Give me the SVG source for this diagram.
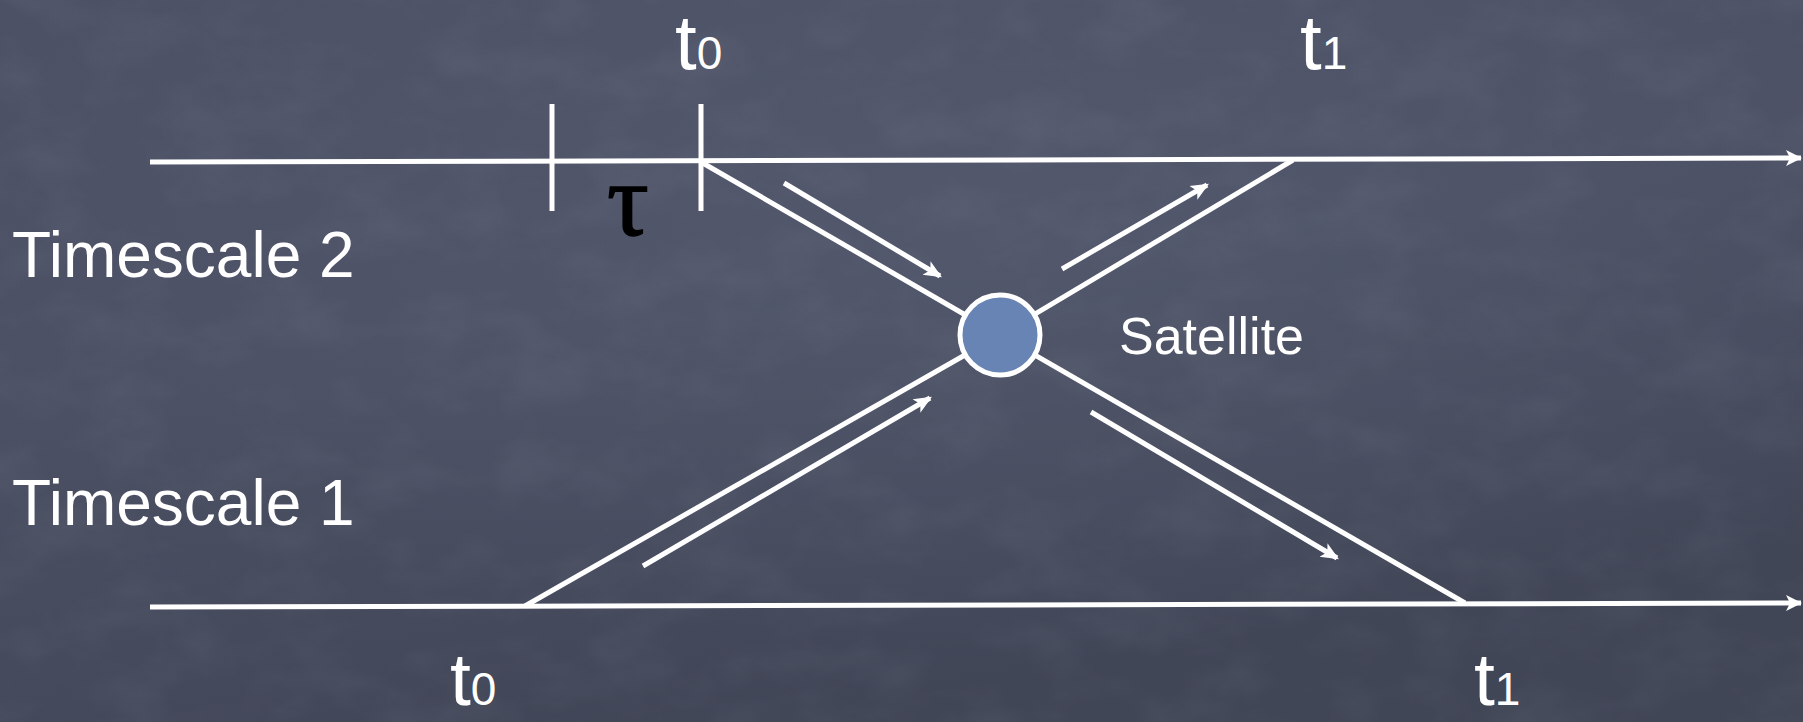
<svg xmlns="http://www.w3.org/2000/svg" width="1803" height="722" viewBox="0 0 1803 722">
  <defs>
    <linearGradient id="bg" x1="0" y1="0" x2="0.4" y2="1">
      <stop offset="0" stop-color="#4c5165"/>
      <stop offset="0.5" stop-color="#4b5064"/>
      <stop offset="1" stop-color="#414657"/>
    </linearGradient>
    <radialGradient id="glow" cx="0.55" cy="0.3" r="0.6">
      <stop offset="0" stop-color="#5a6074" stop-opacity="0.5"/>
      <stop offset="1" stop-color="#5a6074" stop-opacity="0"/>
    </radialGradient>
    <filter id="chalk" x="0" y="0" width="100%" height="100%">
      <feTurbulence type="fractalNoise" baseFrequency="0.012 0.02" numOctaves="4" seed="7" result="n"/>
      <feColorMatrix in="n" type="matrix" values="0 0 0 0 0.55  0 0 0 0 0.58  0 0 0 0 0.68  0 0 0 0.5 -0.2"/>
    </filter>
    <marker id="bigHead" viewBox="0 0 16 16" refX="15" refY="8" markerWidth="16" markerHeight="16" markerUnits="userSpaceOnUse" orient="auto">
      <path d="M0,0 L16,8 L0,16 L4,8 Z" fill="#ffffff"/>
    </marker>
    <marker id="smallHead" viewBox="0 0 16 16" refX="14" refY="8" markerWidth="18" markerHeight="18" markerUnits="userSpaceOnUse" orient="auto">
      <path d="M0,1 L16,8 L0,15 L4,8 Z" fill="#ffffff"/>
    </marker>
    <style>
      .line { stroke: #ffffff; stroke-width: 5; fill: none; }
      .par { stroke: #ffffff; stroke-width: 5; fill: none; marker-end: url(#smallHead); }
      .lbl { font-family: "Liberation Sans", Arial, sans-serif; fill: #ffffff; }
      .t { font-family: "Liberation Sans", Arial, sans-serif; fill: #ffffff; font-size: 78px; }
      .tb { font-family: "Liberation Sans", Arial, sans-serif; fill: #ffffff; font-size: 75px; }
      .sub { font-size: 46px; }
    </style>
  </defs>

  <rect x="0" y="0" width="1803" height="722" fill="url(#bg)"/>
  <rect x="0" y="0" width="1803" height="722" fill="url(#glow)"/>
  <rect x="0" y="0" width="1803" height="722" filter="url(#chalk)" opacity="0.25"/>

  <g id="connectors">
    <line class="line" x1="150" y1="162" x2="1801" y2="158" marker-end="url(#bigHead)"/>
    <line class="line" x1="150" y1="607" x2="1801" y2="603" marker-end="url(#bigHead)"/>
    <line class="line" x1="552" y1="104" x2="552" y2="211"/>
    <line class="line" x1="701" y1="104" x2="701" y2="211"/>
    <line class="line" x1="701" y1="162" x2="1000" y2="335"/>
    <line class="line" x1="1293" y1="160" x2="1000" y2="335"/>
    <line class="line" x1="525" y1="606" x2="1000" y2="335"/>
    <line class="line" x1="1465" y1="603" x2="1000" y2="335"/>
    <line class="par" x1="784" y1="183" x2="940" y2="276"/>
    <line class="par" x1="1062" y1="269" x2="1207" y2="185"/>
    <line class="par" x1="643" y1="566" x2="930" y2="398"/>
    <line class="par" x1="1091" y1="412" x2="1337" y2="558"/>
  </g>

  <g id="satellite">
    <circle cx="1000" cy="335" r="40" fill="#6884b4" stroke="#ffffff" stroke-width="5"/>
    <text class="lbl" x="1119" y="354" font-size="52">Satellite</text>
  </g>

  <g id="timescale2-label">
    <text class="lbl" x="12" y="277" font-size="64">Timescale 2</text>
  </g>
  <g id="timescale1-label">
    <text class="lbl" x="12" y="525" font-size="64">Timescale 1</text>
  </g>

  <g id="tau-label">
    <text x="628" y="235" font-family="'Liberation Serif', 'Times New Roman', serif" font-size="104" fill="#000000" stroke="#000000" stroke-width="1.5" text-anchor="middle">τ</text>
  </g>

  <g id="top-t0">
    <text class="t" x="675" y="69">t<tspan class="sub">0</tspan></text>
  </g>
  <g id="top-t1">
    <text class="t" x="1300" y="69">t<tspan class="sub">1</tspan></text>
  </g>
  <g id="bottom-t0">
    <text class="tb" x="450" y="705">t<tspan class="sub">0</tspan></text>
  </g>
  <g id="bottom-t1">
    <text class="tb" x="1474" y="705">t<tspan class="sub">1</tspan></text>
  </g>
</svg>
